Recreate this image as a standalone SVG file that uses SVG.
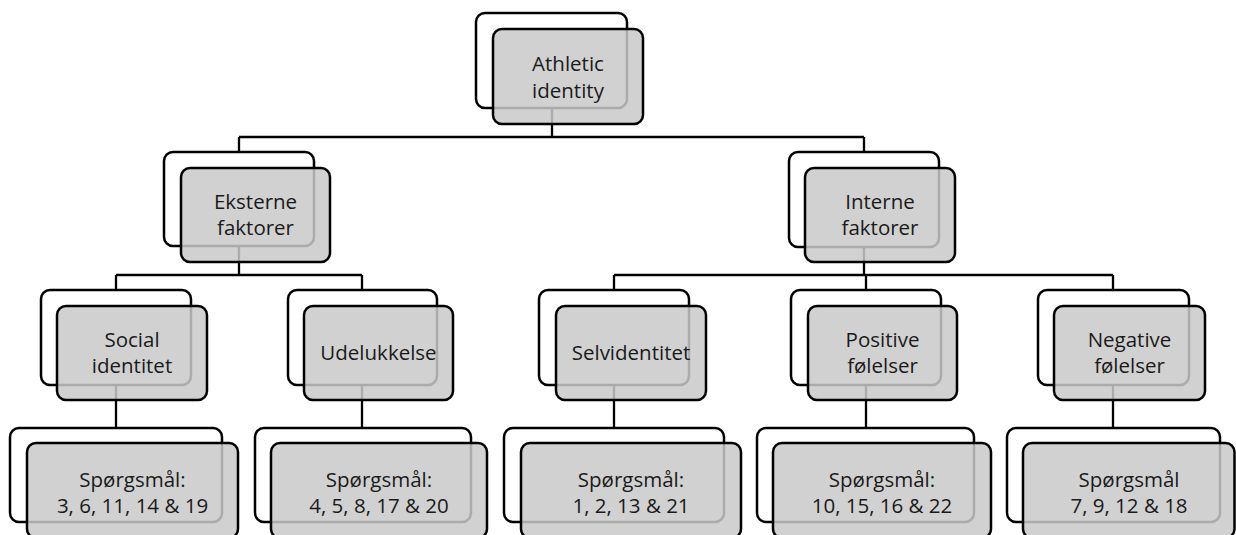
<svg xmlns="http://www.w3.org/2000/svg" width="1236" height="535" viewBox="0 0 1236 535">
<style>
.back{fill:#ffffff;stroke:#000;stroke-width:2.5}
.front{fill:#c9c9c9;fill-opacity:0.85;stroke:#000;stroke-width:2.5}
.conn{fill:none;stroke:#000;stroke-width:2.3}
text{font-family:"Open Sans","Noto Sans",sans-serif;font-size:20.5px;fill:#1a1a1a;text-anchor:middle}
</style>
<rect width="1236" height="535" fill="#fff"/>
<g id="connectors">
<path class="conn" d="M552,108V137M239,137H864M239,137V152M864,137V152"/>
<path class="conn" d="M239,246V275M116,275H362M116,275V290M362,275V290"/>
<path class="conn" d="M864,247V275M614,275H1113M614,275V290M866,275V290M1113,275V290"/>
<path class="conn" d="M116,385V428M362,385V428M614,385V428M866,385V428M1113,385V428"/>
</g>
<g id="athletic-identity">
<rect class="back" x="476" y="13" width="151" height="95" rx="9"/>
<rect class="front" x="493" y="29" width="150" height="95" rx="9"/>
<text x="568" y="71">Athletic</text><text x="568" y="98">identity</text>
</g>
<g id="eksterne-faktorer">
<rect class="back" x="164" y="152" width="150" height="94" rx="9"/>
<rect class="front" x="181" y="168" width="149" height="94" rx="9"/>
<text x="255.5" y="209">Eksterne</text><text x="255.5" y="235">faktorer</text>
</g>
<g id="interne-faktorer">
<rect class="back" x="789" y="152" width="150" height="95" rx="9"/>
<rect class="front" x="805" y="168" width="150" height="94" rx="9"/>
<text x="880" y="209">Interne</text><text x="880" y="235">faktorer</text>
</g>
<g id="social-identitet">
<rect class="back" x="41" y="290" width="150" height="95" rx="9"/>
<rect class="front" x="57" y="306" width="150" height="94" rx="9"/>
<text x="132" y="347">Social</text><text x="132" y="373">identitet</text>
</g>
<g id="udelukkelse">
<rect class="back" x="288" y="290" width="149" height="95" rx="9"/>
<rect class="front" x="304" y="306" width="149" height="94" rx="9"/>
<text x="378.5" y="360">Udelukkelse</text>
</g>
<g id="selvidentitet">
<rect class="back" x="539" y="290" width="150" height="95" rx="9"/>
<rect class="front" x="556" y="306" width="150" height="94" rx="9"/>
<text x="631" y="360">Selvidentitet</text>
</g>
<g id="positive-folelser">
<rect class="back" x="791" y="290" width="150" height="95" rx="9"/>
<rect class="front" x="808" y="306" width="149" height="94" rx="9"/>
<text x="882.5" y="347">Positive</text><text x="882.5" y="373">følelser</text>
</g>
<g id="negative-folelser">
<rect class="back" x="1038" y="290" width="151" height="95" rx="9"/>
<rect class="front" x="1054" y="306" width="151" height="94" rx="9"/>
<text x="1129.5" y="347">Negative</text><text x="1129.5" y="373">følelser</text>
</g>
<g id="q-social">
<rect class="back" x="10" y="428" width="212" height="94" rx="9"/>
<rect class="front" x="27" y="443" width="211" height="95" rx="9"/>
<text x="132.5" y="487">Spørgsmål:</text><text x="132.5" y="513">3, 6, 11, 14 &amp; 19</text>
</g>
<g id="q-udelukkelse">
<rect class="back" x="255" y="428" width="216" height="94" rx="9"/>
<rect class="front" x="271" y="443" width="216" height="95" rx="9"/>
<text x="379" y="487">Spørgsmål:</text><text x="379" y="513">4, 5, 8, 17 &amp; 20</text>
</g>
<g id="q-selvidentitet">
<rect class="back" x="504" y="428" width="220" height="94" rx="9"/>
<rect class="front" x="521" y="443" width="220" height="95" rx="9"/>
<text x="631" y="487">Spørgsmål:</text><text x="631" y="513">1, 2, 13 &amp; 21</text>
</g>
<g id="q-positive">
<rect class="back" x="757" y="428" width="217" height="94" rx="9"/>
<rect class="front" x="773" y="443" width="218" height="95" rx="9"/>
<text x="882" y="487">Spørgsmål:</text><text x="882" y="513">10, 15, 16 &amp; 22</text>
</g>
<g id="q-negative">
<rect class="back" x="1007" y="428" width="213" height="94" rx="9"/>
<rect class="front" x="1023" y="443" width="211.5" height="95" rx="9"/>
<text x="1129" y="487">Spørgsmål</text><text x="1129" y="513">7, 9, 12 &amp; 18</text>
</g>
</svg>
